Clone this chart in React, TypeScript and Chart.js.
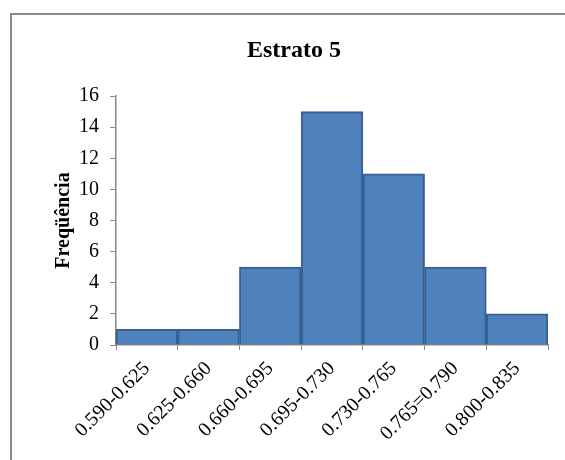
import React, { useEffect, useRef } from "react";
import { Chart, registerables } from "chart.js";

Chart.register(...registerables);

const categories = [
  "0.590-0.625",
  "0.625-0.660",
  "0.660-0.695",
  "0.695-0.730",
  "0.730-0.765",
  "0.765=0.790",
  "0.800-0.835",
];
const frequencies = [1, 1, 5, 15, 11, 5, 2];
const chartTitle = "Estrato 5";
const yAxisTitle = "Freqüência";

const FONT = "'Liberation Serif', 'Times New Roman', serif";
const AXIS_GRAY = "#868686";

export default function App() {
  const ref = useRef<HTMLCanvasElement | null>(null);

  useEffect(() => {
    if (!ref.current) return;
    const titlePlugin = {
      id: "customTitle",
      afterDraw(chart: any) {
        const ctx = chart.ctx;
        ctx.save();
        ctx.font = `bold 24px ${FONT}`;
        ctx.fillStyle = "#000";
        ctx.textAlign = "center";
        ctx.textBaseline = "middle";
        ctx.fillText(chartTitle, 294, 51);
        ctx.restore();
      },
    };
    const chart = new Chart(ref.current, {
      type: "bar",
      data: {
        labels: categories,
        datasets: [
          {
            data: frequencies,
            backgroundColor: "#4F81BD",
            borderColor: "#385F8E",
            borderWidth: 2,
            barPercentage: 1,
            categoryPercentage: 1,
          },
        ],
      },
      options: {
        animation: false,
        responsive: false,
        maintainAspectRatio: false,
        layout: { padding: { left: 48, right: 17, top: 96, bottom: 0 } },
        plugins: {
          legend: { display: false },
          title: { display: false },
          tooltip: { enabled: false },
        },
        scales: {
          x: {
            grid: {
              display: true,
              drawOnChartArea: false,
              drawTicks: true,
              tickLength: 5,
              color: AXIS_GRAY,
              offset: true,
            },
            border: { display: true, color: AXIS_GRAY, width: 1.5 },
            ticks: {
              maxRotation: 45,
              minRotation: 45,
              color: "#000",
              font: { family: FONT, size: 20 },
              padding: 7,
            },
            afterFit(scale: any) {
              scale.height = 115;
            },
          },
          y: {
            min: 0,
            max: 16,
            ticks: {
              stepSize: 2,
              color: "#000",
              font: { family: FONT, size: 20 },
              padding: 11,
            },
            grid: {
              display: true,
              drawOnChartArea: false,
              drawTicks: true,
              tickLength: 6,
              color: AXIS_GRAY,
            },
            border: { display: true, color: AXIS_GRAY, width: 1.5 },
            title: {
              display: true,
              text: yAxisTitle,
              color: "#000",
              font: { family: FONT, size: 20, weight: "bold" },
              padding: { top: 4, bottom: 4 },
            },
            afterFit(scale: any) {
              scale.width = 68;
            },
          },
        },
      },
      plugins: [titlePlugin],
    });
    return () => chart.destroy();
  }, []);

  return (
    <div style={{ position: "absolute", left: 0, top: 0, width: 565, height: 460, background: "#fff", overflow: "hidden" }}>
      <div
        style={{
          position: "absolute",
          left: 10,
          top: 13,
          width: 600,
          height: 500,
          borderLeft: "2px solid #8a8a8a",
          borderTop: "2px solid #8a8a8a",
        }}
      />
      <canvas ref={ref} width={565} height={460} style={{ position: "absolute", left: 0, top: 0 }} />
    </div>
  );
}
